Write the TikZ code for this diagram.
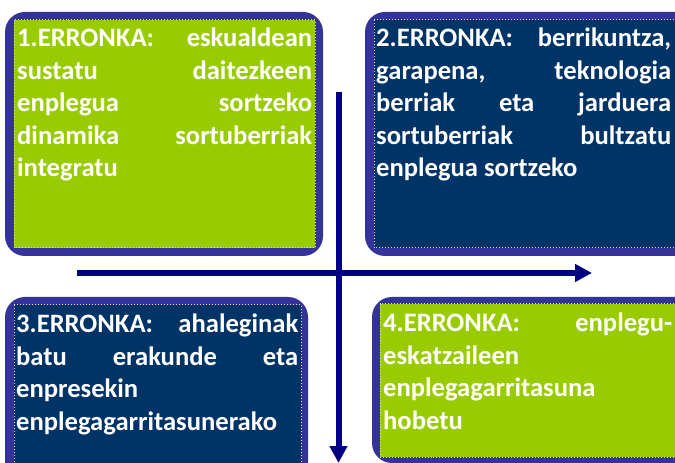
\documentclass[tikz,border=0pt]{standalone}
\usepackage{fontspec}
\setmainfont{Carlito}
\usepackage{tikz}
\usetikzlibrary{arrows.meta, positioning, calc}
\definecolor{erronkagreen}{HTML}{99CC00}
\definecolor{erronkanavy}{HTML}{003366}
\definecolor{erronkaframe}{HTML}{333399}
\definecolor{axisblue}{HTML}{000080}
\hyphenpenalty=10000
\exhyphenpenalty=10000
\begin{document}
\begin{tikzpicture}[x=1bp, y=-1bp,
		frame/.style={fill=erronkaframe, rounded corners=20bp},
		panel/.style={draw=white!75!gray, dotted, line width=1bp},
		erronka/.style={anchor=base west, inner sep=0pt, text=white, align=justify,
			font=\fontsize{26.7pt}{32.6pt}\selectfont\bfseries},
		axis/.style={-{Triangle[length=17bp, width=17bp]}, axisblue, line width=6bp}]
	
	\path[use as bounding box, clip] (0,0) rectangle (675,463);
	
	% 1. THE FRAMES
	\fill[frame] (5,12) rectangle (323,256);
	\fill[frame] (365,12) rectangle (700,256);
	\fill[frame] (5,297) rectangle (308,490);
	\fill[frame] (372,297) rectangle (700,463);
	
	% Inner panels
	\filldraw[panel, fill=erronkagreen] (14,20) rectangle (315,248);
	\filldraw[panel, fill=erronkanavy] (374,20) rectangle (700,248);
	\filldraw[panel, fill=erronkanavy] (14,305) rectangle (301,490);
	\filldraw[panel, fill=erronkagreen] (380,304) rectangle (700,457);
	
	% 2. THE TEXTS
	\node[erronka, text width=295bp] (e1) at (17,47)
		{1.ERRONKA: eskualdean\linebreak sustatu daitezkeen\linebreak enplegua sortzeko\linebreak dinamika sortuberriak\linebreak integratu};
	\node[erronka, text width=295bp] (e2) at (376,47)
		{2.ERRONKA: berrikuntza,\linebreak garapena, teknologia\linebreak berriak eta jarduera\linebreak sortuberriak bultzatu\linebreak enplegua sortzeko};
	\node[erronka, text width=282bp] (e3) at (16,333)
		{3.ERRONKA: ahaleginak\linebreak batu erakunde eta\linebreak enpresekin\newline enplegagarritasunerako};
	\node[erronka, text width=289bp] (e4) at (383,332)
		{4.ERRONKA: enplegu-\linebreak eskatzaileen\newline enplegagarritasuna\newline hobetu};
	
	% 3. THE AXES
	\coordinate (vstart) at (338.5,92);
	\coordinate (vend) at (338.5,463);
	\coordinate (hstart) at (77,273);
	\coordinate (hend) at (592,273);
	\draw[axis] (hstart) -- (hend);
	\draw[axis] (vstart) -- (vend);
	
\end{tikzpicture}
\end{document}
